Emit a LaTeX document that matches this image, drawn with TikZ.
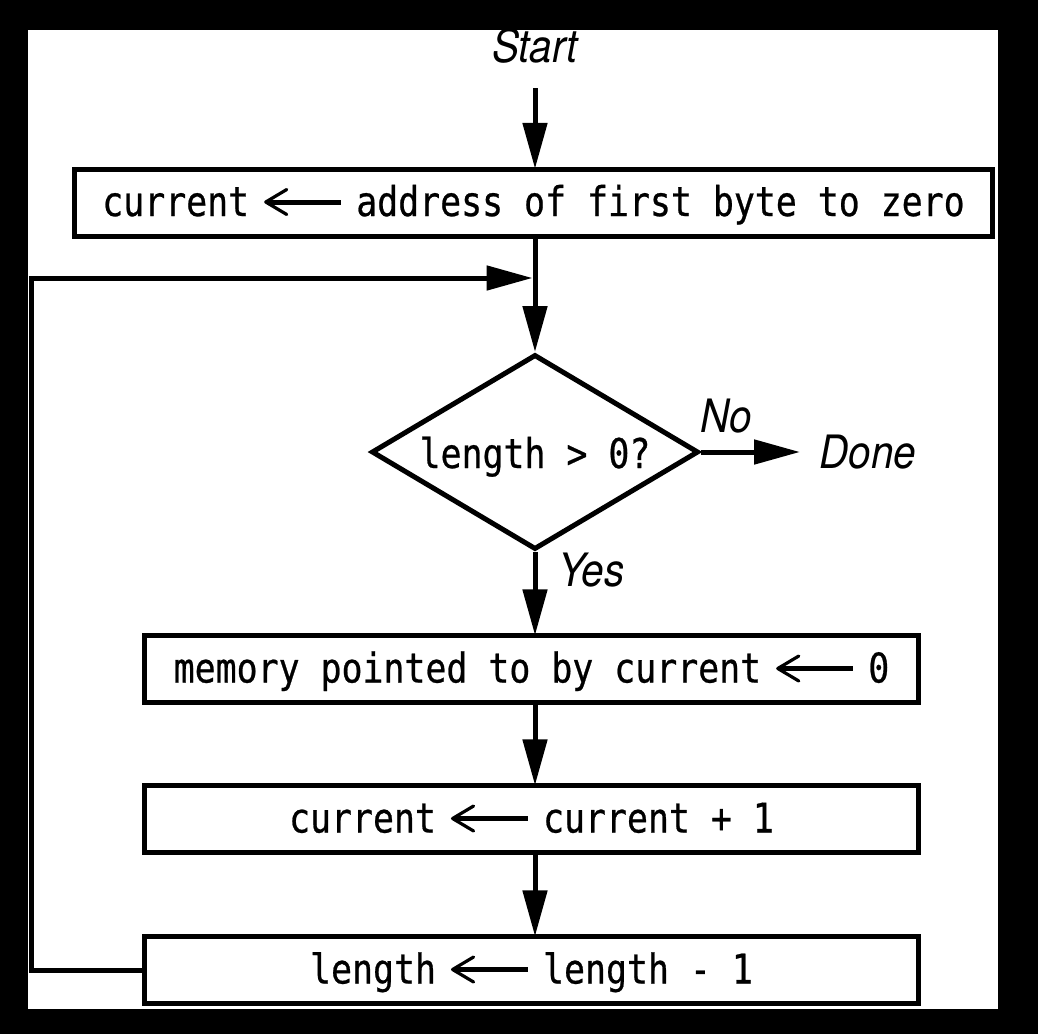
\documentclass[tikz,border=0pt]{standalone}
\usepackage{fontspec}
\usetikzlibrary{arrows.meta,shapes.geometric}
\newfontfamily\monof{DejaVu Sans Mono}[FakeStretch=0.85,FakeBold=0.6]
\newfontfamily\labf{TeX Gyre Heros}[FakeStretch=0.88]
\newcommand{\larr}{\tikz[baseline=0pt,x=1pt,y=1pt]{\draw[line width=5pt,line cap=butt] (3,14)--(77,14); \draw[line width=3.2pt,line cap=round,line join=round] (23,26.5)--(2,14)--(23,1.5);}}
\begin{document}
\begin{tikzpicture}[x=1pt,y=-1pt,line width=5pt,
  box/.style={draw,rectangle,inner sep=0pt,minimum height=67pt,text height=27pt,text depth=0pt,
    font=\monof\fontsize{41}{48}\selectfont},
  decision/.style={draw,diamond,shape aspect=1.66,minimum width=327pt,minimum height=195pt,inner sep=0pt,
    text height=32pt,text depth=0pt,font=\monof\fontsize{41}{48}\selectfont},
  lab/.style={inner sep=0pt,font=\labf\itshape\fontsize{46}{52}\selectfont},
  arr/.style={-{Triangle[length=46pt,width=24pt]}}]
\useasboundingbox (0,0) rectangle (1038,1034);
\fill[black] (0,0) rectangle (1038,1034);
\fill[white] (28,30) rectangle (998,1009);

\node[lab,anchor=base] (start) at (535,62) {Start};
\node[box,minimum width=918pt] (box1) at (533.5,202.5) {current\hspace{15pt}\larr\hspace{13pt}address of first byte to zero};
\node[decision] (dia) at (535,452) {length > 0?};
\node[lab,anchor=base west] (no) at (698,432) {No};
\node[lab,anchor=base west] (done) at (817,468) {Done};
\node[lab,anchor=base west] (yes) at (556,586) {Yes};
\node[box,minimum width=774pt] (box2) at (531.5,669) {memory pointed to by current\hspace{15pt}\larr\hspace{13pt}0};
\node[box,minimum width=774pt] (box3) at (531.5,819) {current\hspace{15pt}\larr\hspace{13pt}current + 1};
\node[box,minimum width=774pt] (box4) at (531.5,970) {length\hspace{15pt}\larr\hspace{13pt}length - 1};
\coordinate (corner) at (31,278);
\coordinate (join) at (532.5,278);

\draw[arr,shorten <=23pt] (start.south) -- (start.south |- box1.north);
\draw[arr] (box1.south -| dia.north) -- (dia.north);
\draw[arr,shorten >=17pt] (dia.east) -- (dia.east -| done.west);
\draw[arr] (dia.south) -- (dia.south |- box2.north);
\draw[arr] (box2.south -| dia.south) -- (box3.north -| dia.south);
\draw[arr] (box3.south -| dia.south) -- (box4.north -| dia.south);
\draw[arr] (box4.west) -| (corner) -- (join);
\end{tikzpicture}
\end{document}
